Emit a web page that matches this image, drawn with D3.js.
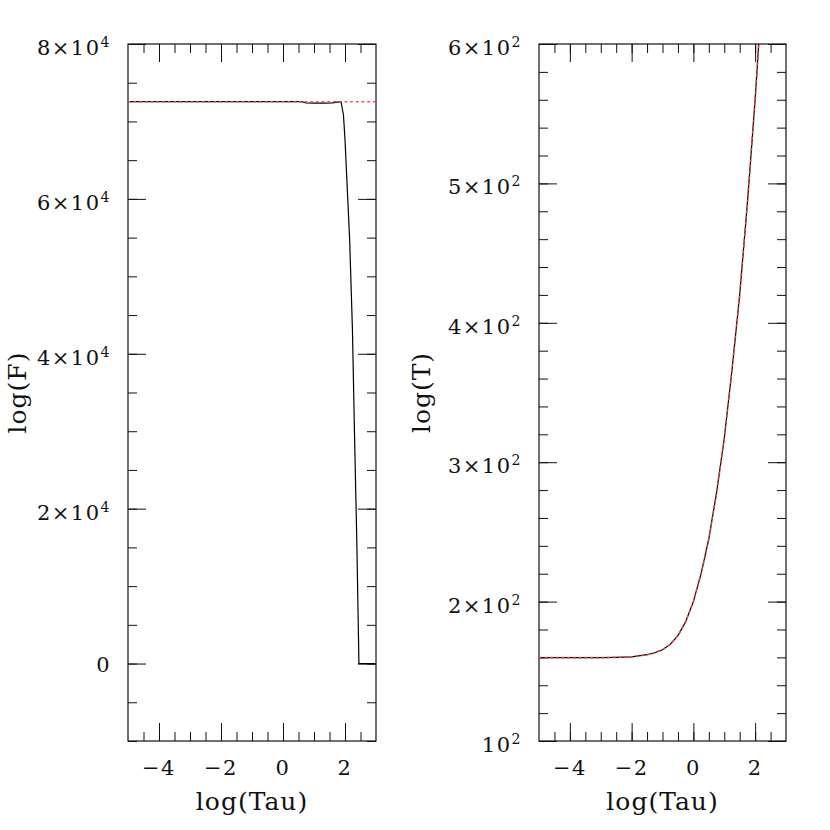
<!DOCTYPE html>
<html><head><meta charset="utf-8">
<script src="https://cdn.jsdelivr.net/npm/d3@7"></script>
<style>body{margin:0;background:#fff}</style></head>
<body>
<svg id="c" width="830" height="830"></svg>
<script>
// ---------- data ----------
const tauF = [-5, 0.6, 0.75, 1.0, 1.3, 1.6, 1.8, 1.87, 1.95, 2.0, 2.06, 2.15, 2.24, 2.30, 2.38, 2.45, 3.0];
const fluxModel = [72550, 72550, 72380, 72370, 72370, 72400, 72520, 72550, 70870, 67640, 62470, 54720, 43090, 30940, 15950, 0, 0];
const tauFA = [-5, 3];
const fluxAnalytic = [72550, 72550];

const tauT = [-5, -4.5, -4, -3.5, -3, -2.5, -2, -1.5, -1.25, -1, -0.75, -0.5, -0.25, 0, 0.25, 0.5, 0.75, 1, 1.25, 1.5, 1.75, 2, 2.25];
const tempModel = [159.8, 159.8, 159.8, 159.8, 159.8, 160.0, 160.4, 161.9, 163.3, 165.4, 169.3, 175.6, 185.5, 200, 220, 245, 278, 317, 366, 420, 486, 560, 646];
const tempAnalytic = [159.8, 159.8, 159.8, 159.8, 159.8, 160.0, 160.4, 161.9, 163.3, 165.4, 169.3, 175.6, 185.5, 200, 220, 245, 278, 317, 366, 420, 486, 560, 646];

const xMajorTicks = [-4, -2, 0, 2];
const xTickLabels = ["\u22124", "\u22122", "0", "2"];
const fluxTicks = [0, 20000, 40000, 60000, 80000];
const fluxTickLabels = [["0", ""], ["2\u00d710", "4"], ["4\u00d710", "4"], ["6\u00d710", "4"], ["8\u00d710", "4"]];
const tempTicks = [100, 200, 300, 400, 500, 600];
const tempTickLabels = [["10", "2"], ["2\u00d710", "2"], ["3\u00d710", "2"], ["4\u00d710", "2"], ["5\u00d710", "2"], ["6\u00d710", "2"]];

// ---------- drawing ----------
const svg = d3.select("#c");
svg.append("rect").attr("width", 830).attr("height", 830).attr("fill", "#fff");
const FONT = "DejaVu Serif";
const Y0 = 44, Y1 = 741;

function panel(cfg) {
  const x = d3.scaleLinear().domain([-5, 3]).range([cfg.x0, cfg.x1]);
  const y = d3.scaleLinear().domain(cfg.yDomain).range([Y1, Y0]);
  const g = svg.append("g");
  const clipId = "clip" + cfg.id;
  g.append("clipPath").attr("id", clipId).append("rect")
    .attr("x", cfg.x0).attr("y", Y0).attr("width", cfg.x1 - cfg.x0).attr("height", Y1 - Y0);

  const xMinor = d3.range(-4.5, 3, 0.5);
  const style = sel => { sel.select(".domain").remove(); sel.selectAll(".tick line").attr("stroke", "#111").attr("stroke-width", 1); };
  g.append("g").attr("transform", `translate(0,${Y1})`).call(d3.axisBottom(x).tickValues(xMinor).tickSize(-9).tickFormat("")).call(style);
  g.append("g").attr("transform", `translate(0,${Y1})`).call(d3.axisBottom(x).tickValues(xMajorTicks).tickSize(-18).tickFormat("")).call(style);
  g.append("g").attr("transform", `translate(0,${Y0})`).call(d3.axisTop(x).tickValues(xMinor).tickSize(-9).tickFormat("")).call(style);
  g.append("g").attr("transform", `translate(0,${Y0})`).call(d3.axisTop(x).tickValues(xMajorTicks).tickSize(-18).tickFormat("")).call(style);

  const yMinor = d3.range(cfg.yDomain[0], cfg.yDomain[1] + 1e-6, cfg.minorStep);
  g.append("g").attr("transform", `translate(${cfg.x0},0)`).call(d3.axisLeft(y).tickValues(yMinor).tickSize(-9).tickFormat("")).call(style);
  g.append("g").attr("transform", `translate(${cfg.x0},0)`).call(d3.axisLeft(y).tickValues(cfg.yTicks).tickSize(-18).tickFormat("")).call(style);
  g.append("g").attr("transform", `translate(${cfg.x1},0)`).call(d3.axisRight(y).tickValues(yMinor).tickSize(-9).tickFormat("")).call(style);
  g.append("g").attr("transform", `translate(${cfg.x1},0)`).call(d3.axisRight(y).tickValues(cfg.yTicks).tickSize(-18).tickFormat("")).call(style);

  g.append("rect").attr("x", cfg.x0).attr("y", Y0).attr("width", cfg.x1 - cfg.x0).attr("height", Y1 - Y0)
    .attr("fill", "none").attr("stroke", "#111").attr("stroke-width", 1.2);

  const line = d3.line().x(d => x(d[0])).y(d => y(d[1]));
  g.append("path").attr("clip-path", `url(#${clipId})`)
    .attr("d", line(cfg.model)).attr("fill", "none").attr("stroke", "#000").attr("stroke-width", 1.2);
  g.append("path").attr("clip-path", `url(#${clipId})`)
    .attr("d", line(cfg.analytic)).attr("fill", "none").attr("stroke", "#ff3b3b").attr("stroke-width", 1.6)
    .attr("stroke-dasharray", "2.4,3.3");

  // x tick labels
  g.selectAll(".xl").data(xMajorTicks).enter().append("text")
    .attr("x", d => x(d)).attr("y", 775).attr("text-anchor", "middle")
    .attr("font-family", FONT).attr("font-size", 21).attr("letter-spacing", 1.5).attr("fill", "#111")
    .text((d, i) => xTickLabels[i]);
  // y tick labels
  const yl = g.selectAll(".yl").data(cfg.yTicks).enter().append("text")
    .attr("x", cfg.x0 - 17).attr("y", d => y(d) + (d === 0 ? 8 : 11)).attr("text-anchor", "end")
    .attr("font-family", FONT).attr("font-size", 21).attr("letter-spacing", 1.5).attr("fill", "#111");
  yl.each(function (d, i) {
    const t = d3.select(this);
    const lab = cfg.yLabels[i];
    t.append("tspan").text(lab[0]);
    if (lab[1]) t.append("tspan").attr("dy", -8).attr("font-size", 14).text(lab[1]);
  });
  // axis titles
  g.append("text").attr("x", (cfg.x0 + cfg.x1) / 2).attr("y", 810).attr("text-anchor", "middle")
    .attr("font-family", FONT).attr("font-size", 25).attr("letter-spacing", 1).attr("fill", "#111").text("log(Tau)");
  g.append("text").attr("transform", `translate(${cfg.titleX},${(Y0 + Y1) / 2}) rotate(-90)`).attr("text-anchor", "middle")
    .attr("font-family", FONT).attr("font-size", 25).attr("letter-spacing", 1).attr("fill", "#111").text(cfg.yTitle);
}

panel({
  id: "L", x0: 128, x1: 376, yDomain: [-10000, 80000], yTicks: fluxTicks, yLabels: fluxTickLabels, minorStep: 5000,
  model: tauF.map((t, i) => [t, fluxModel[i]]), analytic: tauFA.map((t, i) => [t, fluxAnalytic[i]]),
  yTitle: "log(F)", titleX: 26
});
panel({
  id: "R", x0: 539, x1: 786, yDomain: [100, 600], yTicks: tempTicks, yLabels: tempTickLabels, minorStep: 20,
  model: tauT.map((t, i) => [t, tempModel[i]]), analytic: tauT.map((t, i) => [t, tempAnalytic[i]]),
  yTitle: "log(T)", titleX: 430
});
</script>
</body></html>
